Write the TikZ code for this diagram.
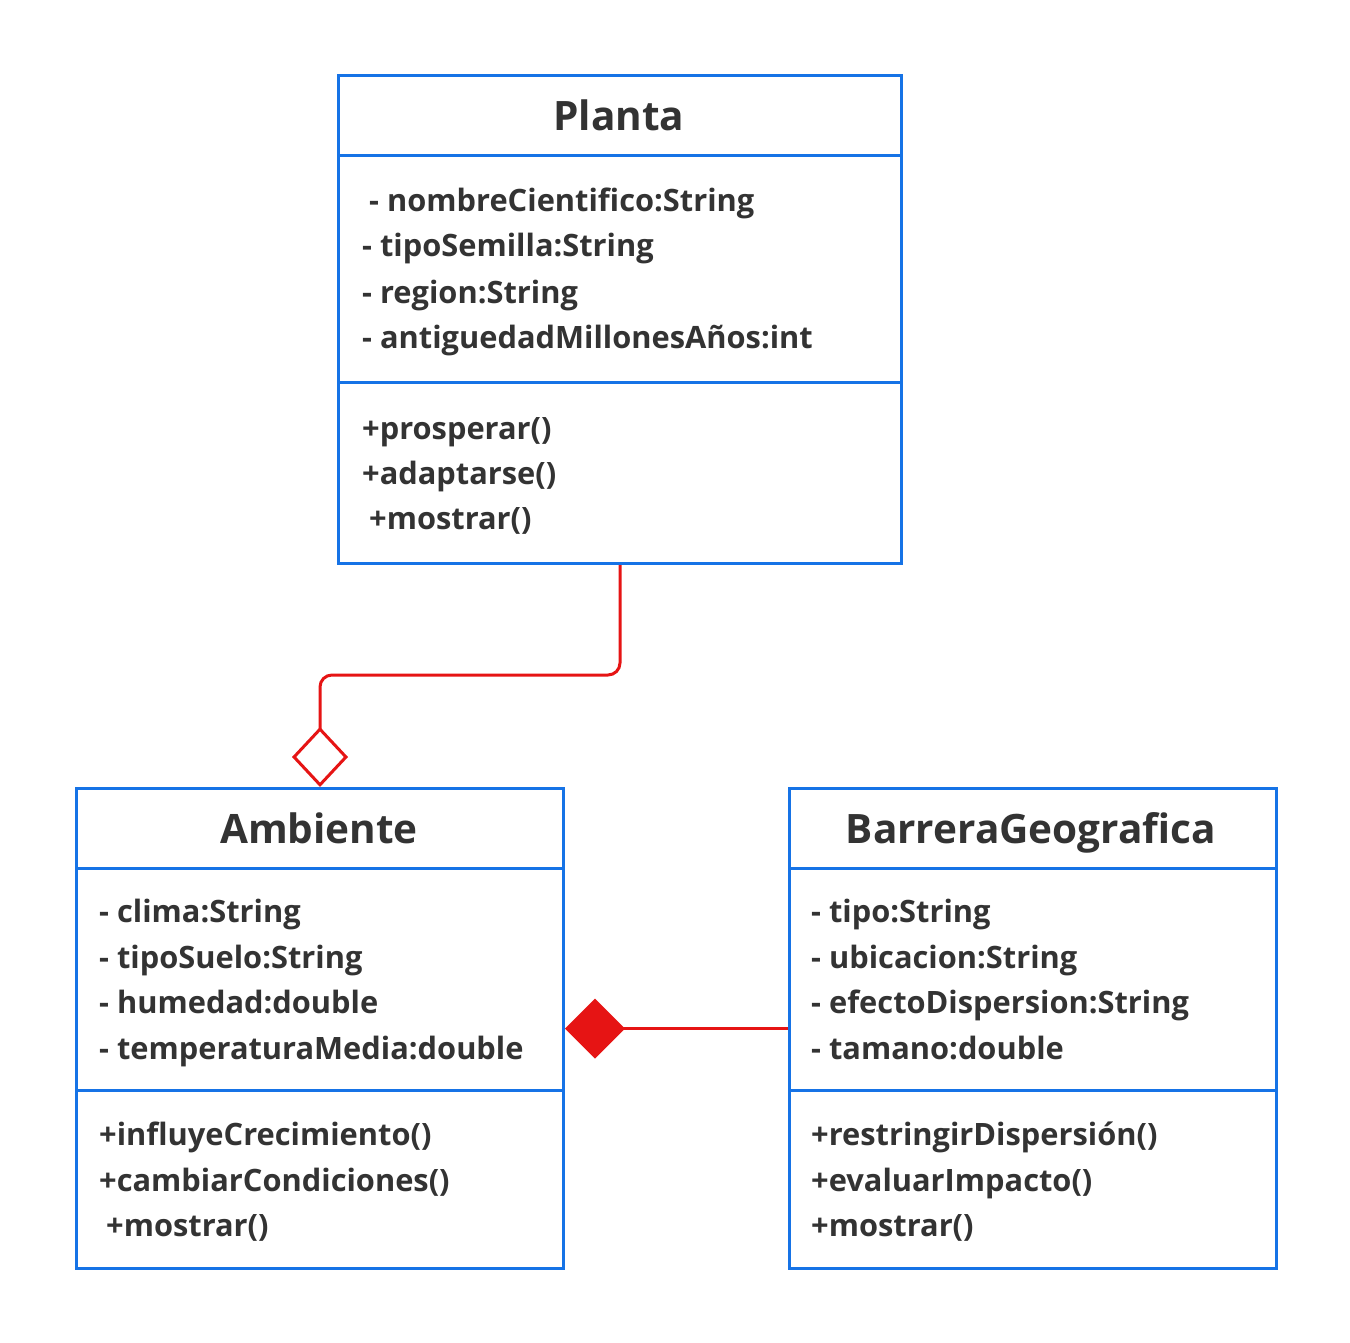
\documentclass[tikz,border=0pt]{standalone}
\usepackage{fontspec}
\setmainfont{Open Sans}
\usetikzlibrary{arrows.meta}
\definecolor{umlblue}{RGB}{22,115,230}
\definecolor{umlred}{RGB}{230,20,20}
\definecolor{umltext}{RGB}{51,51,51}
\tikzset{
  classbox/.style={draw=umlblue, line width=3pt, minimum width=#1, anchor=north west, inner sep=0pt},
  sepline/.style={draw=umlblue, line width=3pt},
  titletext/.style={text=umltext, font=\fontsize{40.5}{46}\selectfont\bfseries, anchor=base, inner sep=0pt},
  itemtext/.style={text=umltext, font=\fontsize{30.8}{36}\selectfont\bfseries, anchor=base west, inner sep=0pt},
  relline/.style={draw=umlred, line width=3pt},
}
\begin{document}
\begin{tikzpicture}[x=1pt,y=-1pt]
\useasboundingbox[fill=white] (0,0) rectangle (1350,1343);

% Planta
\node[classbox=563pt, minimum height=488pt] (planta) at (337,74) {};
\draw[sepline] (planta.west |- 0,156) -- (planta.east |- 0,156);
\draw[sepline] (planta.west |- 0,382) -- (planta.east |- 0,382);
\node[titletext] (plantaT) at (619,131) {Planta};
\node[itemtext] (p1) at (369,212) {- nombreCientifico:String};
\node[itemtext] (p2) at (362,257) {- tipoSemilla:String};
\node[itemtext] (p3) at (362,303) {- region:String};
\node[itemtext] (p4) at (362,348) {- antiguedadMillonesAños:int};
\node[itemtext] (p5) at (362,439) {+prosperar()};
\node[itemtext] (p6) at (362,484) {+adaptarse()};
\node[itemtext] (p7) at (369,529) {+mostrar()};

% Ambiente
\node[classbox=487pt, minimum height=480pt] (amb) at (75,787) {};
\draw[sepline] (amb.west |- 0,868) -- (amb.east |- 0,868);
\draw[sepline] (amb.west |- 0,1090) -- (amb.east |- 0,1090);
\node[titletext] (ambT) at (319,843) {Ambiente};
\node[itemtext] (a1) at (99,922) {- clima:String};
\node[itemtext] (a2) at (99,968) {- tipoSuelo:String};
\node[itemtext] (a3) at (99,1013) {- humedad:double};
\node[itemtext] (a4) at (99,1059) {- temperaturaMedia:double};
\node[itemtext] (a5) at (99,1145) {+influyeCrecimiento()};
\node[itemtext] (a6) at (99,1191) {+cambiarCondiciones()};
\node[itemtext] (a7) at (106,1236) {+mostrar()};

% BarreraGeografica
\node[classbox=487pt, minimum height=480pt] (bar) at (788,787) {};
\draw[sepline] (bar.west |- 0,868) -- (bar.east |- 0,868);
\draw[sepline] (bar.west |- 0,1090) -- (bar.east |- 0,1090);
\node[titletext] (barT) at (1031,843) {BarreraGeografica};
\node[itemtext] (b1) at (811,922) {- tipo:String};
\node[itemtext] (b2) at (811,968) {- ubicacion:String};
\node[itemtext] (b3) at (811,1013) {- efectoDispersion:String};
\node[itemtext] (b4) at (811,1059) {- tamano:double};
\node[itemtext] (b5) at (811,1145) {+restringirDispersión()};
\node[itemtext] (b6) at (811,1191) {+evaluarImpacto()};
\node[itemtext] (b7) at (811,1236) {+mostrar()};

% Aggregation
\draw[relline, rounded corners=12pt, -{Diamond[open, length=60pt, width=56pt, line width=3pt]}]
  (planta.south) -- (planta.south |- 0,675) -| (amb.north);

% Composition
\draw[relline, {Diamond[fill=umlred, length=60pt, width=60pt]}-]
  (amb.east) -- (bar.west);
\end{tikzpicture}
\end{document}
